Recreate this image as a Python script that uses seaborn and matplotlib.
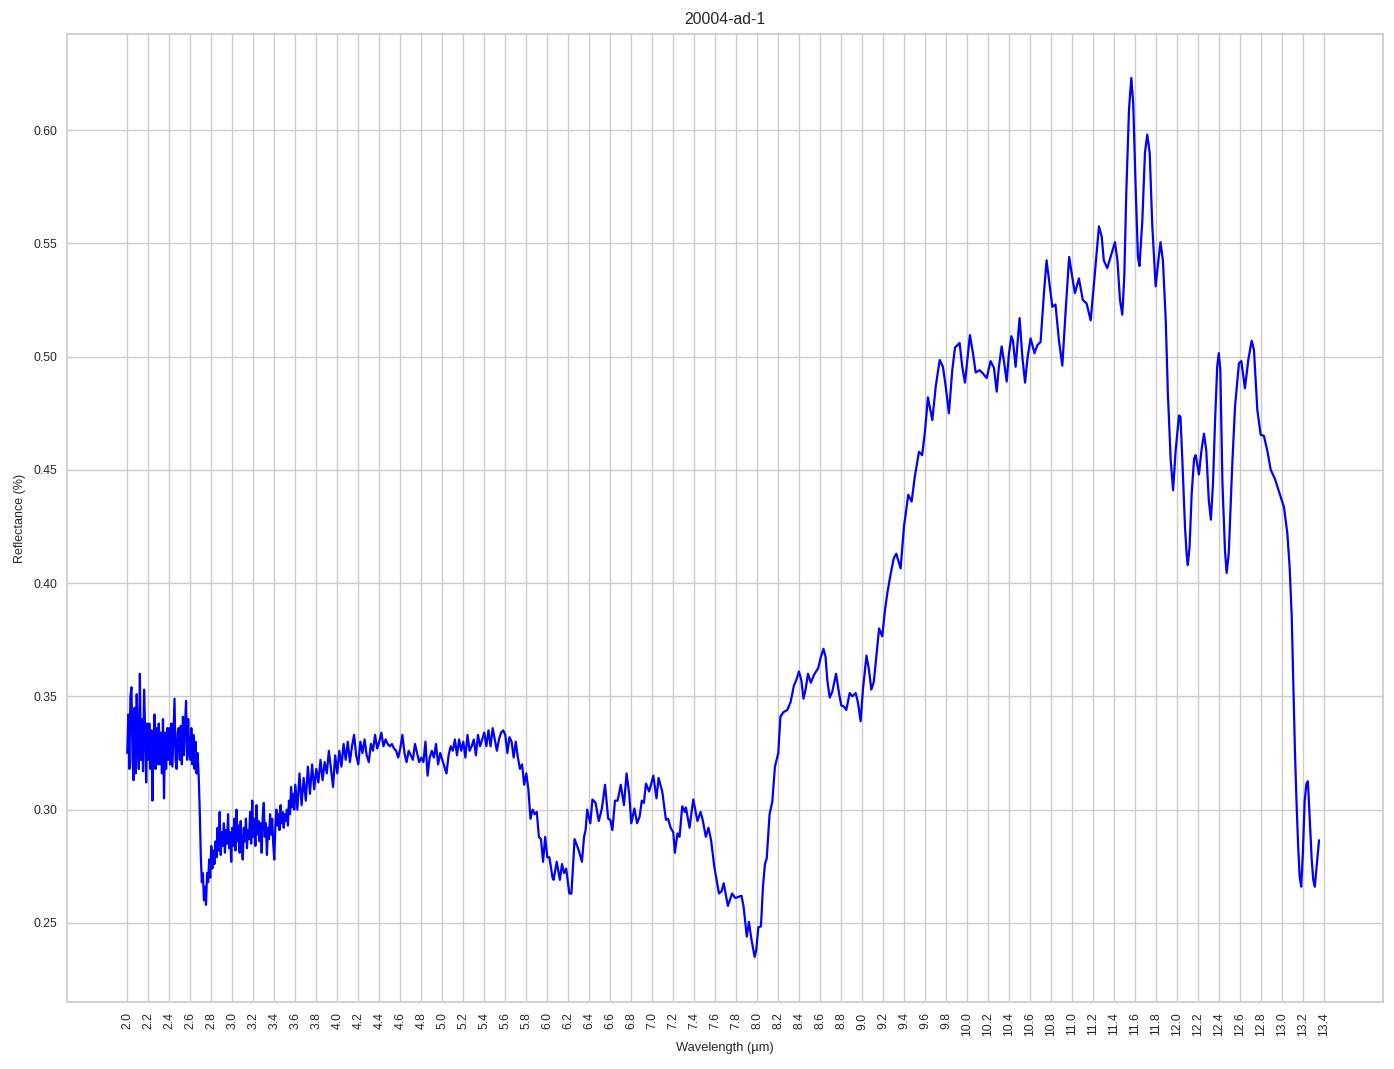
import numpy as np
import pandas as pd
import matplotlib
matplotlib.use("Agg")
import matplotlib.pyplot as plt
import seaborn as sns

# ---------------- data ----------------
title = "20004-ad-1"
x_label = "Wavelength (µm)"
y_label = "Reflectance (%)"
x_ticks = [round(2.0 + 0.2 * i, 1) for i in range(58)]

# noisy part, 2.00 .. 3.59 sampled every 0.01 µm
start_ab, step_ab = 2.00, 0.01
refl_ab = [
    0.325, 0.342, 0.318, 0.350, 0.354, 0.322, 0.313, 0.345, 0.316, 0.351,
    0.330, 0.318, 0.360, 0.322, 0.340, 0.317, 0.353, 0.336, 0.312, 0.338,
    0.322, 0.338, 0.318, 0.335, 0.304, 0.330, 0.342, 0.318, 0.336, 0.320,
    0.338, 0.320, 0.334, 0.316, 0.340, 0.305, 0.334, 0.318, 0.336, 0.322,
    0.336, 0.320, 0.338, 0.319, 0.334, 0.349, 0.322, 0.318, 0.334, 0.336,
    0.322, 0.337, 0.320, 0.341, 0.324, 0.338, 0.348, 0.322, 0.340, 0.326,
    0.322, 0.336, 0.320, 0.333, 0.318, 0.330, 0.316, 0.325, 0.315, 0.300,
    0.280, 0.268, 0.272, 0.260, 0.266, 0.258, 0.272, 0.268, 0.278, 0.270,
    0.284, 0.274, 0.282, 0.276, 0.286, 0.279, 0.292, 0.282, 0.299, 0.280,
    0.290, 0.284, 0.294, 0.281, 0.291, 0.285, 0.298, 0.283, 0.290, 0.277,
    0.292, 0.284, 0.296, 0.282, 0.300, 0.286, 0.293, 0.281, 0.295, 0.284,
    0.278, 0.292, 0.286, 0.296, 0.283, 0.291, 0.287, 0.299, 0.285, 0.304,
    0.288, 0.296, 0.284, 0.302, 0.289, 0.295, 0.286, 0.294, 0.281, 0.297,
    0.303, 0.288, 0.294, 0.280, 0.292, 0.287, 0.298, 0.289, 0.296, 0.285,
    0.278, 0.292, 0.300, 0.293, 0.298, 0.291, 0.302, 0.294, 0.299, 0.292,
    0.298, 0.295, 0.300, 0.293, 0.304, 0.298, 0.310, 0.301, 0.307, 0.300,
]

# noisy part, 3.60 .. 5.88 sampled every 0.02 µm
start_c, step_c = 3.60, 0.02
refl_c = [
    0.311, 0.300, 0.316, 0.302, 0.314, 0.304, 0.319, 0.307, 0.320, 0.309,
    0.318, 0.312, 0.322, 0.313, 0.321, 0.316, 0.326, 0.318, 0.310, 0.324,
    0.316, 0.326, 0.319, 0.329, 0.322, 0.330, 0.321, 0.328, 0.333, 0.324,
    0.320, 0.330, 0.325, 0.331, 0.324, 0.321, 0.329, 0.326, 0.333, 0.327,
    0.330, 0.334, 0.328, 0.331, 0.329, 0.328, 0.329, 0.327, 0.326, 0.323,
    0.327, 0.333, 0.325, 0.321, 0.326, 0.324, 0.322, 0.329, 0.325, 0.321,
    0.323, 0.321, 0.330, 0.315, 0.323, 0.326, 0.323, 0.329, 0.320, 0.325,
    0.322, 0.319, 0.316, 0.324, 0.328, 0.326, 0.331, 0.324, 0.331, 0.326,
    0.330, 0.323, 0.333, 0.326, 0.328, 0.331, 0.324, 0.333, 0.328, 0.331,
    0.334, 0.328, 0.335, 0.328, 0.336, 0.331, 0.326, 0.331, 0.334, 0.335,
    0.333, 0.325, 0.332, 0.330, 0.323, 0.330, 0.323, 0.318, 0.320, 0.311,
    0.316, 0.309, 0.296, 0.300, 0.298,
]

# smoother part, 5.90 .. 7.99
wl_d = [
    5.90, 5.92, 5.94, 5.96, 5.98,
    6.00, 6.02, 6.05, 6.06, 6.09,
    6.12, 6.14, 6.16, 6.18, 6.21,
    6.23, 6.26, 6.30, 6.33, 6.35,
    6.365, 6.38, 6.41, 6.43, 6.46,
    6.49, 6.52, 6.55, 6.58, 6.60,
    6.62, 6.645, 6.67, 6.70, 6.73,
    6.755, 6.78, 6.80, 6.83, 6.855,
    6.88, 6.90, 6.92, 6.94, 6.97,
    7.01, 7.04, 7.06, 7.095, 7.13,
    7.15, 7.175, 7.20, 7.215, 7.24,
    7.26, 7.285, 7.31, 7.32, 7.355,
    7.39, 7.43, 7.46, 7.48, 7.51,
    7.535, 7.56, 7.59, 7.635, 7.66,
    7.68, 7.72, 7.76, 7.79, 7.85,
    7.87, 7.90, 7.92, 7.945, 7.975,
    7.99,
]
refl_d = [
    0.299, 0.288, 0.287, 0.277, 0.288,
    0.279, 0.279, 0.270, 0.269, 0.277,
    0.269, 0.276, 0.272, 0.274, 0.263,
    0.263, 0.287, 0.282, 0.277, 0.288,
    0.291, 0.300, 0.294, 0.3045, 0.303,
    0.295, 0.3005, 0.311, 0.296, 0.2955,
    0.291, 0.304, 0.304, 0.311, 0.302,
    0.316, 0.307, 0.294, 0.3005, 0.294,
    0.297, 0.304, 0.303, 0.3115, 0.308,
    0.315, 0.305, 0.314, 0.308, 0.2955,
    0.296, 0.292, 0.290, 0.281, 0.2895,
    0.288, 0.3015, 0.299, 0.301, 0.292,
    0.3045, 0.295, 0.299, 0.2955, 0.288,
    0.292, 0.2865, 0.275, 0.263, 0.264,
    0.2675, 0.2575, 0.263, 0.261, 0.262,
    0.257, 0.244, 0.2505, 0.2425, 0.235,
    0.238,
]

# 8.01 .. 9.98
wl_e = [
    8.01, 8.035, 8.054, 8.073, 8.09,
    8.117, 8.143, 8.168, 8.20, 8.22,
    8.248, 8.286, 8.317, 8.35, 8.37,
    8.397, 8.42, 8.44, 8.46, 8.483,
    8.51, 8.54, 8.58, 8.603, 8.63,
    8.65, 8.667, 8.69, 8.714, 8.75,
    8.778, 8.80, 8.825, 8.848, 8.88,
    8.905, 8.937, 8.96, 8.984, 9.006,
    9.04, 9.063, 9.086, 9.11, 9.133,
    9.16, 9.19, 9.216, 9.238, 9.27,
    9.30, 9.324, 9.365, 9.397, 9.438,
    9.47, 9.50, 9.54, 9.57, 9.597,
    9.625, 9.667, 9.70, 9.737, 9.768,
    9.794, 9.825, 9.857, 9.883, 9.905,
    9.927, 9.952, 9.978,
]
refl_e = [
    0.248, 0.2485, 0.266, 0.276, 0.2785,
    0.298, 0.3035, 0.319, 0.325, 0.341,
    0.343, 0.344, 0.3475, 0.355, 0.357,
    0.361, 0.357, 0.349, 0.353, 0.360,
    0.356, 0.3595, 0.3625, 0.367, 0.371,
    0.3675, 0.357, 0.3495, 0.352, 0.360,
    0.3515, 0.346, 0.3455, 0.344, 0.3515,
    0.350, 0.3515, 0.347, 0.339, 0.353,
    0.368, 0.362, 0.353, 0.3565, 0.3675,
    0.380, 0.3765, 0.388, 0.3955, 0.404,
    0.411, 0.413, 0.4065, 0.425, 0.439,
    0.436, 0.447, 0.458, 0.4565, 0.467,
    0.482, 0.472, 0.487, 0.4985, 0.4955,
    0.487, 0.475, 0.494, 0.504, 0.505,
    0.506, 0.4955, 0.4885,
]

# 10.00 .. 11.98
wl_f = [
    10.0, 10.025, 10.054, 10.08, 10.117,
    10.15, 10.184, 10.222, 10.254, 10.28,
    10.30, 10.327, 10.352, 10.375, 10.397,
    10.42, 10.435, 10.46, 10.498, 10.524,
    10.55, 10.575, 10.603, 10.64, 10.667,
    10.698, 10.73, 10.755, 10.778, 10.81,
    10.84, 10.873, 10.905, 10.937, 10.97,
    11.0, 11.025, 11.063, 11.10, 11.136,
    11.175, 11.206, 11.254, 11.28, 11.30,
    11.333, 11.365, 11.406, 11.43, 11.454,
    11.476, 11.495, 11.514, 11.54, 11.562,
    11.58, 11.603, 11.625, 11.64, 11.667,
    11.692, 11.714, 11.737, 11.762, 11.794,
    11.82, 11.84, 11.863, 11.89, 11.91,
    11.937, 11.96, 11.984,
]
refl_f = [
    0.4985, 0.5095, 0.5015, 0.493, 0.494,
    0.4925, 0.4905, 0.498, 0.495, 0.4845,
    0.495, 0.5045, 0.497, 0.489, 0.5015,
    0.509, 0.507, 0.4955, 0.517, 0.500,
    0.4885, 0.500, 0.508, 0.5015, 0.505,
    0.5065, 0.528, 0.5425, 0.534, 0.522,
    0.523, 0.507, 0.496, 0.5205, 0.544,
    0.535, 0.528, 0.5345, 0.525, 0.5235,
    0.516, 0.532, 0.5575, 0.553, 0.5425,
    0.539, 0.544, 0.5505, 0.5425, 0.525,
    0.5185, 0.535, 0.572, 0.609, 0.623,
    0.612, 0.575, 0.544, 0.540, 0.560,
    0.590, 0.598, 0.590, 0.5575, 0.531,
    0.5425, 0.5505, 0.5425, 0.516, 0.484,
    0.4545, 0.441, 0.4585,
]

# 12.02 .. 13.35
wl_g = [
    12.016, 12.03, 12.048, 12.073, 12.09,
    12.10, 12.117, 12.137, 12.16, 12.175,
    12.206, 12.23, 12.254, 12.276, 12.30,
    12.32, 12.34, 12.36, 12.38, 12.395,
    12.41, 12.43, 12.454, 12.47, 12.49,
    12.524, 12.55, 12.587, 12.61, 12.644,
    12.676, 12.708, 12.73, 12.762, 12.794,
    12.825, 12.857, 12.89, 12.93, 12.975,
    13.016, 13.048, 13.07, 13.09, 13.105,
    13.12, 13.135, 13.15, 13.165, 13.18,
    13.197, 13.213, 13.23, 13.244, 13.26,
    13.28, 13.295, 13.31, 13.327, 13.35,
]
refl_g = [
    0.474, 0.4735, 0.4545, 0.425, 0.412,
    0.408, 0.416, 0.4395, 0.455, 0.4565,
    0.448, 0.4585, 0.466, 0.4585, 0.4365,
    0.428, 0.444, 0.472, 0.4955, 0.5015,
    0.494, 0.444, 0.4145, 0.4045, 0.413,
    0.453, 0.478, 0.497, 0.498, 0.486,
    0.4985, 0.507, 0.503, 0.4765, 0.4655,
    0.465, 0.4585, 0.450, 0.446, 0.4395,
    0.4335, 0.422, 0.407, 0.385, 0.356,
    0.3265, 0.304, 0.285, 0.2705, 0.266,
    0.282, 0.304, 0.3115, 0.3125, 0.297,
    0.278, 0.269, 0.266, 0.275, 0.2865,
]

# ---------------- table ----------------
wl_ab = [round(start_ab + step_ab * i, 3) for i in range(len(refl_ab))]
wl_c = [round(start_c + step_c * i, 3) for i in range(len(refl_c))]
wavelength = wl_ab + wl_c + wl_d + wl_e + wl_f + wl_g
reflectance = refl_ab + refl_c + refl_d + refl_e + refl_f + refl_g
df = pd.DataFrame({"wavelength": wavelength, "reflectance": reflectance})

# ---------------- plot ----------------
sns.set_theme(style="whitegrid")
plt.rcParams["font.family"] = ["Liberation Sans", "DejaVu Sans"]

fig = plt.figure(figsize=(13.94, 10.69), dpi=100)
ax = fig.add_axes([67 / 1394, 1 - 1002 / 1069, (1383 - 67) / 1394, (1002 - 34) / 1069])

sns.lineplot(data=df, x="wavelength", y="reflectance", color="blue",
             linewidth=1.6, estimator=None, ax=ax)

ax.set_xlim(1.426, 13.959)
ax.set_ylim(0.2151, 0.6424)
ax.set_xticks(x_ticks)
ax.set_xticklabels([f"{t:.1f}" for t in x_ticks], rotation=90)
ax.tick_params(axis="both", labelsize=8.8, length=0)
ax.tick_params(axis="x", pad=7.5)
ax.tick_params(axis="y", pad=7.0)
ax.set_title(title, fontsize=11.3, pad=7)
ax.set_xlabel(x_label, fontsize=9.3, labelpad=4)
ax.set_ylabel(y_label, fontsize=9.0, labelpad=5)

fig.savefig("out.png", dpi=100)
